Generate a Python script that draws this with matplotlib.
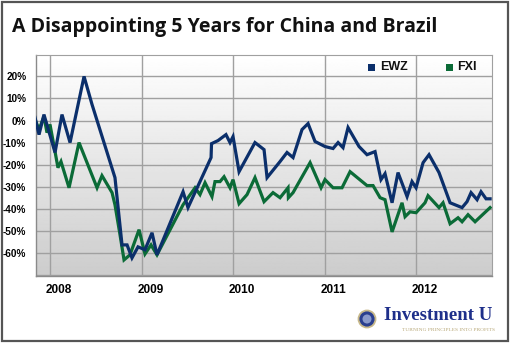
import numpy as np
import matplotlib
matplotlib.use("Agg")
import matplotlib.pyplot as plt
from matplotlib.patches import Rectangle, Ellipse

# data (decimal year, % change)
ewz_t = [2007.836, 2007.880, 2007.934, 2008.055, 2008.131, 2008.219, 2008.372, 2008.459,
         2008.710, 2008.787, 2008.842, 2008.896, 2008.962, 2009.038, 2009.115, 2009.169,
         2009.454, 2009.508, 2009.760, 2009.765, 2009.836, 2009.923, 2009.967, 2010.000,
         2010.066, 2010.240, 2010.339, 2010.372, 2010.514, 2010.590, 2010.656, 2010.754,
         2010.820, 2010.896, 2011.005, 2011.093, 2011.148, 2011.202, 2011.257, 2011.377,
         2011.464, 2011.552, 2011.617, 2011.661, 2011.738, 2011.803, 2011.902, 2011.956,
         2012.000, 2012.077, 2012.142, 2012.251, 2012.372, 2012.503, 2012.557, 2012.601,
         2012.667, 2012.710, 2012.765, 2012.809]
ewz_v = [1.4, -6.4, 2.7, -14.5, 2.7, -10.0, 20.0, 7.3,
         -25.9, -56.4, -56.4, -62.3, -57.3, -58.6, -50.9, -60.9,
         -32.3, -39.5, -16.8, -10.5, -9.1, -6.4, -10.0, -7.3,
         -23.2, -10.0, -13.2, -25.9, -18.6, -14.5, -16.8, -4.1,
         -1.4, -9.5, -11.8, -12.7, -10.0, -12.3, -3.2, -11.8,
         -15.5, -14.1, -26.8, -24.1, -37.3, -23.6, -34.5, -27.7,
         -30.5, -19.1, -15.5, -23.6, -37.3, -39.5, -36.8, -32.7,
         -35.9, -32.3, -35.5, -35.5]

fxi_t = [2007.836, 2007.880, 2007.934, 2007.967, 2008.000, 2008.055, 2008.087, 2008.120,
         2008.208, 2008.317, 2008.514, 2008.568, 2008.678, 2008.710, 2008.765, 2008.809,
         2008.874, 2008.973, 2009.038, 2009.104, 2009.169, 2009.454, 2009.585, 2009.639,
         2009.694, 2009.770, 2009.803, 2009.858, 2009.902, 2009.967, 2010.000, 2010.066,
         2010.153, 2010.240, 2010.339, 2010.437, 2010.514, 2010.601, 2010.605, 2010.656,
         2010.842, 2010.962, 2011.005, 2011.093, 2011.191, 2011.279, 2011.464, 2011.530,
         2011.607, 2011.661, 2011.738, 2011.847, 2011.880, 2011.934, 2012.000, 2012.098,
         2012.131, 2012.251, 2012.295, 2012.372, 2012.459, 2012.503, 2012.568, 2012.645,
         2012.809]
fxi_v = [0.5, -4.1, 1.8, -5.5, -1.8, -14.1, -21.4, -18.6,
         -30.5, -10.0, -30.5, -25.0, -32.7, -38.2, -51.8, -63.2,
         -60.9, -49.5, -60.5, -56.4, -60.9, -38.2, -30.5, -33.6,
         -28.2, -34.5, -27.7, -27.7, -25.5, -30.5, -26.8, -37.7,
         -33.6, -25.9, -36.8, -32.7, -35.0, -30.5, -35.0, -32.7,
         -19.1, -30.5, -26.8, -30.5, -30.5, -23.2, -29.5, -29.5,
         -35.0, -35.9, -50.5, -37.3, -43.6, -41.4, -41.8, -37.3,
         -34.1, -39.5, -37.3, -46.8, -44.1, -45.9, -42.7, -45.9,
         -39.5]

years = [2008, 2009, 2010, 2011, 2012]
y_ticks = [20, 10, 0, -10, -20, -30, -40, -50, -60]

navy = "#0b2f6b"
green = "#0b6b37"
W, H = 511, 343
lab_font = "Liberation Sans"

fig = plt.figure(figsize=(W / 100, H / 100), dpi=100)
fig.patch.set_facecolor("white")
fig.patches.append(Rectangle((1.5 / W, 2 / H), 506 / W, 339 / H, transform=fig.transFigure,
                             fill=False, edgecolor="#555555", linewidth=1.6))

ax = fig.add_axes([36 / W, 1 - 276 / H, 456 / W, 221 / H])
xlim = (2007.847, 2012.83)
ylim = (-70.5, 29.7)
# gradient background
grad = np.linspace(1.0, 0.80, 256).reshape(-1, 1)
ax.imshow(grad, cmap="gray", vmin=0, vmax=1, aspect="auto",
          extent=[xlim[0], xlim[1], ylim[0], ylim[1]], origin="upper", zorder=0)
ax.set_xlim(xlim)
ax.set_ylim(ylim)

for yr in years:
    ax.axvline(yr, color="#a0a0a0", lw=1.0, zorder=1)
for yv in y_ticks + [-70, 30]:
    ax.axhline(yv, color="#a0a0a0", lw=1.0, zorder=1)

ax.plot(fxi_t, fxi_v, color=green, lw=2.3, zorder=3, solid_joinstyle="miter")
ax.plot(ewz_t, ewz_v, color=navy, lw=2.3, zorder=4, solid_joinstyle="miter")

ax.set_yticks(y_ticks)
ax.set_yticklabels([f"{v}%" for v in y_ticks], fontsize=7.2, fontweight="bold", family=lab_font)
ax.set_xticks([y + 0.1 for y in years])
ax.set_xticklabels([str(y) for y in years], fontsize=8.5, fontweight="bold", family=lab_font)
ax.tick_params(length=0)
ax.tick_params(axis="y", pad=7)
ax.tick_params(axis="x", pad=6)
for s in ["top", "right"]:
    ax.spines[s].set_color("#a0a0a0")
for s in ["left", "bottom"]:
    ax.spines[s].set_color("#8a8a8a")
    ax.spines[s].set_linewidth(1.0)

# legend
fig.patches.append(Rectangle((368 / W, 1 - 71 / H), 7 / W, 7 / H, transform=fig.transFigure,
                             facecolor=navy, edgecolor="none"))
fig.text(380 / W, 1 - 67 / H, "EWZ", color="#111111", fontsize=9, fontweight="bold",
         family=lab_font, va="center")
fig.patches.append(Rectangle((446 / W, 1 - 71 / H), 7 / W, 7 / H, transform=fig.transFigure,
                             facecolor=green, edgecolor="none"))
fig.text(457 / W, 1 - 67 / H, "FXI", color="#111111", fontsize=9, fontweight="bold",
         family=lab_font, va="center")

fig.text(12 / W, 1 - 27 / H, "A Disappointing 5 Years for China and Brazil",
         fontsize=14, fontweight="bold", family="Open Sans", va="center", color="#111111")

# logo
fig.patches.append(Ellipse((367 / W, 1 - 319 / H), 17 / W, 17 / H, transform=fig.transFigure,
                           facecolor="#2a3f8f", edgecolor="#c8b98a", lw=1.3))
fig.patches.append(Ellipse((367 / W, 1 - 319 / H), 9 / W, 9 / H, transform=fig.transFigure,
                           facecolor="#8a9acb", edgecolor="none"))
fig.text(384 / W, 1 - 316 / H, "Investment U", fontsize=13.5, fontweight="bold",
         family="Liberation Serif", color="#1e2f8a", va="center")
fig.text(448 / W, 1 - 330 / H, "TURNING PRINCIPLES INTO PROFITS", fontsize=3.9,
         family="Liberation Serif", color="#b8a878", va="center", ha="center")

fig.savefig("out.png", dpi=100)
